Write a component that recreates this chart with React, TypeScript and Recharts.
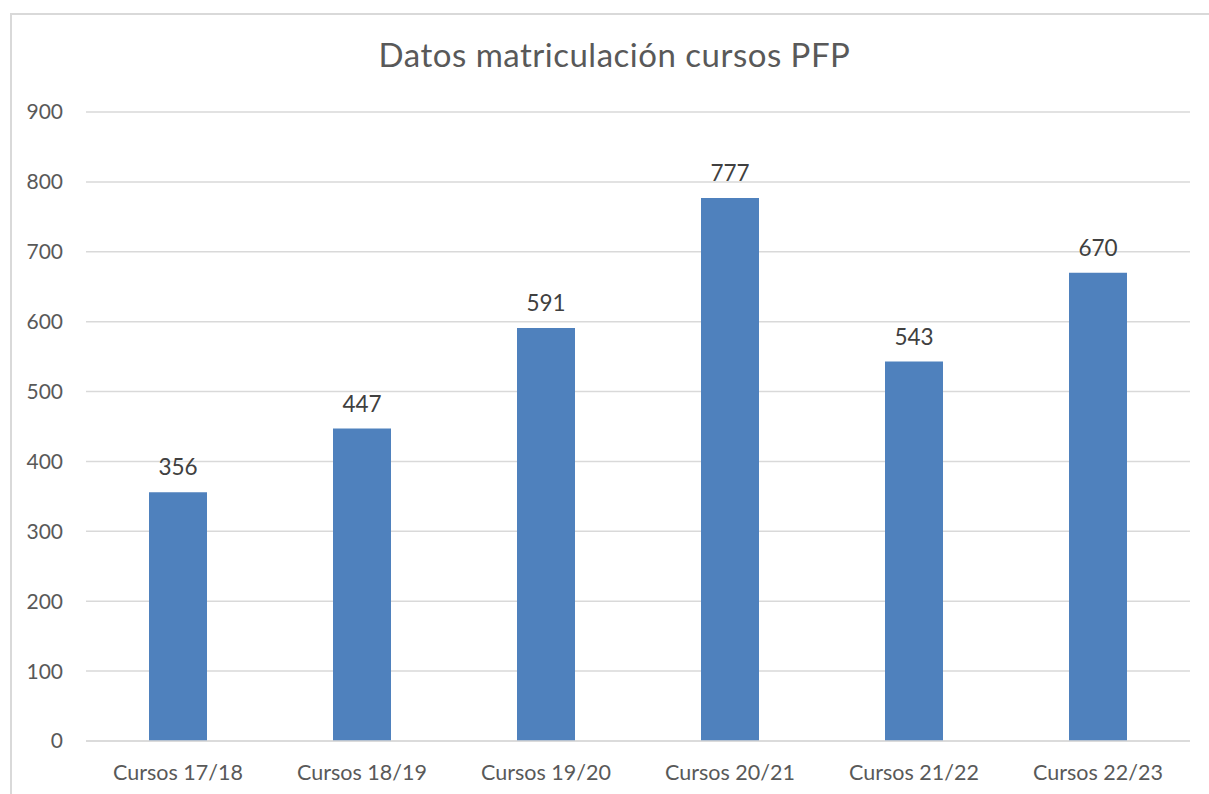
import { Bar, BarChart, CartesianGrid, LabelList, XAxis, YAxis } from "recharts"

const cursos = ["Cursos 17/18", "Cursos 18/19", "Cursos 19/20", "Cursos 20/21", "Cursos 21/22", "Cursos 22/23"];
const matriculados = [356, 447, 591, 777, 543, 670];
const yTicks = [0, 100, 200, 300, 400, 500, 600, 700, 800, 900];

const data = cursos.map((name, i) => ({ name, total: matriculados[i] }));

const font = "Lato, 'Open Sans', sans-serif";
const textColor = "#595959";

export default function App() {
  return (
    <div style={{ position: "absolute", left: 0, top: 0, width: 1209, height: 794, background: "#fff", overflow: "hidden", fontFamily: font }}>
      {/* chart frame, cut off on the right and bottom like the screenshot */}
      <div style={{ position: "absolute", left: 10, top: 13, width: 1220, height: 800, border: "2px solid #d9d9d9", boxSizing: "border-box" }} />
      <div style={{ position: "absolute", left: 10, top: 38, width: 1209, textAlign: "center", fontSize: 33, lineHeight: 1, letterSpacing: 0.5, color: textColor }}>
        Datos matriculación cursos PFP
      </div>
      <div style={{ position: "absolute", left: 0, top: 0 }}>
        <BarChart width={1209} height={794} data={data} margin={{ top: 112, right: 19, bottom: 0, left: 0 }}>
          <CartesianGrid vertical={false} stroke="#d9d9d9" strokeWidth={1.5} />
          <XAxis
            dataKey="name"
            height={53}
            stroke="#d9d9d9"
            strokeWidth={1.5}
            tickLine={false}
            tick={{ fill: textColor, fontSize: 21.5, fontFamily: font }}
            tickSize={0}
            tickMargin={24}
          />
          <YAxis
            width={86}
            domain={[0, 900]}
            ticks={yTicks}
            axisLine={false}
            tickLine={false}
            tickSize={0}
            tickMargin={23}
            tick={{ fill: textColor, fontSize: 21, fontFamily: font }}
          />
          <Bar dataKey="total" fill="#4f81bd" barSize={58} isAnimationActive={false}>
            <LabelList dataKey="total" position="top" offset={17} fill="#404040" fontSize={22.5} fontFamily={font} />
          </Bar>
        </BarChart>
      </div>
    </div>
  );
}
